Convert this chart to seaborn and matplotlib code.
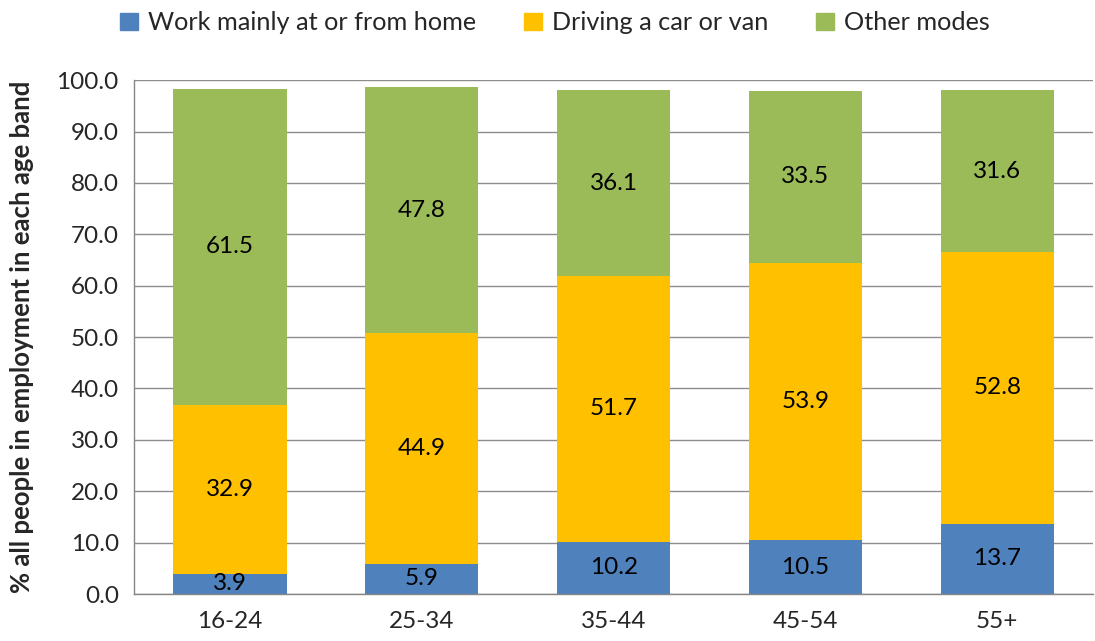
import numpy as np
import pandas as pd
import seaborn as sns
import matplotlib.pyplot as plt
from matplotlib.ticker import FixedLocator, FormatStrFormatter
from matplotlib.patches import Patch

ages = ['16-24', '25-34', '35-44', '45-54', '55+']
home = [3.9, 5.9, 10.2, 10.5, 13.7]
car = [32.9, 44.9, 51.7, 53.9, 52.8]
other = [61.5, 47.8, 36.1, 33.5, 31.6]
series = ['Work mainly at or from home', 'Driving a car or van', 'Other modes']
colors = ['#4F81BD', '#FFC000', '#9BBB59']

sns.set_style('white')
plt.rcParams['font.family'] = ['Lato', 'DejaVu Sans']

df = pd.DataFrame({'age': ages, series[0]: home, series[1]: car, series[2]: other})

fig = plt.figure(figsize=(10.95, 6.41), dpi=100)
ax = fig.add_axes([0.1224, 0.0733, 0.876, 0.8017])

# draw cumulative totals, tallest first so the lower segments sit on top
cum = df[series].cumsum(axis=1)
for name, col in reversed(list(zip(series, colors))):
    sns.barplot(x=df['age'], y=cum[name], color=col, width=0.59, ax=ax,
                saturation=1, linewidth=0, errorbar=None)

bottom = np.zeros(len(ages))
for name in series:
    vals = df[name].values
    for i, v in enumerate(vals):
        ax.text(i, bottom[i] + v / 2, f'{v:.1f}', ha='center', va='center',
                fontsize=17.5, color='black', zorder=20)
    bottom = bottom + vals

ax.set_ylim(0, 100)
ax.set_xlim(-0.5, len(ages) - 0.5)
ax.yaxis.set_major_locator(FixedLocator(np.arange(0, 101, 10)))
ax.yaxis.set_major_formatter(FormatStrFormatter('%.1f'))
ax.set_xticks(range(len(ages)))
ax.set_xticklabels(ages)
ax.xaxis.set_minor_locator(FixedLocator(np.arange(-0.5, len(ages), 1)))
ax.tick_params(axis='x', which='major', length=0, labelsize=17.5, pad=12)
ax.tick_params(axis='x', which='minor', length=7, color='#868686', width=1)
ax.tick_params(axis='y', length=7, color='#868686', width=1, labelsize=17.5, pad=4)
ax.set_axisbelow(True)
ax.yaxis.grid(True, color='#8c8c8c', linewidth=1)
ax.set_xlabel('')
ax.set_ylabel('% all people in employment in each age band', fontsize=18.5,
              fontweight='bold', labelpad=16)
for s in ['top', 'right']:
    ax.spines[s].set_visible(False)
for s in ['left', 'bottom']:
    ax.spines[s].set_color('#868686')
    ax.spines[s].set_linewidth(1)

handles = [Patch(color=c, label=n) for n, c in zip(series, colors)]
fig.legend(handles=handles, loc='upper center', bbox_to_anchor=(0.507, 1.018),
           ncol=3, frameon=False, fontsize=18.2, handlelength=0.7, handleheight=0.7,
           columnspacing=1.9, handletextpad=0.4)

fig.savefig('out.png', dpi=100)
